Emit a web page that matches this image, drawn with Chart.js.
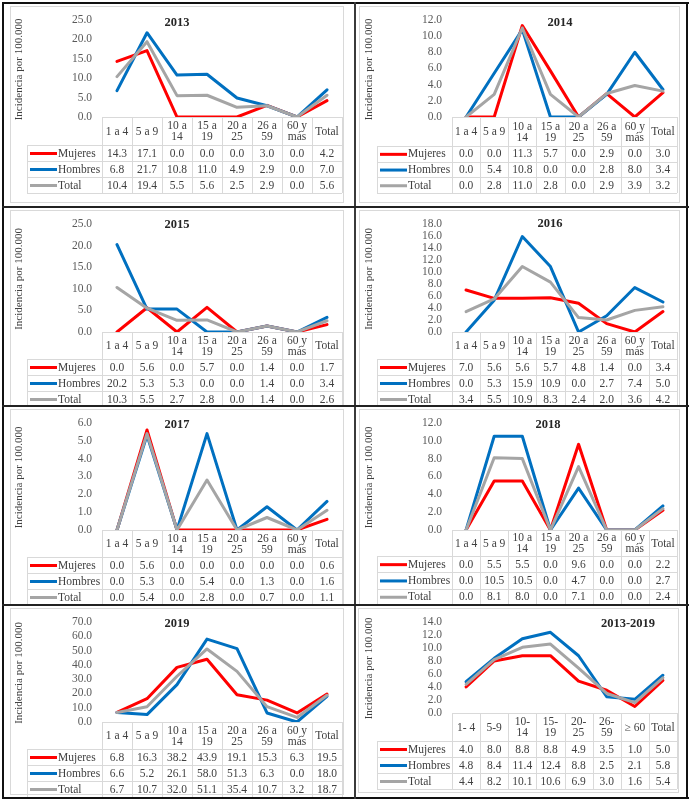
<!DOCTYPE html>
<html><head><meta charset="utf-8">
<script src="https://cdn.jsdelivr.net/npm/chart.js@4.4.0/dist/chart.umd.min.js"></script>
<style>
html,body{margin:0;padding:0;background:#fff;}
#wrap{position:relative;width:691px;height:802px;overflow:hidden;background:#fff;}
canvas{position:absolute;}
.ln{position:absolute;}
</style></head><body><div id="wrap"></div>
<script>
// ---------- DATA ----------
const categories = [["1 a 4"],["5 a 9"],["10 a","14"],["15 a","19"],["20 a","25"],["26 a","59"],["60 y","más"],["Total"]];
const categoriesAll = [["1- 4"],["5-9"],["10-","14"],["15-","19"],["20-","25"],["26-","59"],["≥ 60"],["Total"]];
const seriesNames = ["Mujeres","Hombres","Total"];
const yAxisTitle = "Incidencia por 100.000";

const mujeres2013 = [14.3,17.1,0.0,0.0,0.0,3.0,0.0,4.2];
const hombres2013 = [6.8,21.7,10.8,11.0,4.9,2.9,0.0,7.0];
const total2013   = [10.4,19.4,5.5,5.6,2.5,2.9,0.0,5.6];

const mujeres2014 = [0.0,0.0,11.3,5.7,0.0,2.9,0.0,3.0];
const hombres2014 = [0.0,5.4,10.8,0.0,0.0,2.8,8.0,3.4];
const total2014   = [0.0,2.8,11.0,2.8,0.0,2.9,3.9,3.2];

const mujeres2015 = [0.0,5.6,0.0,5.7,0.0,1.4,0.0,1.7];
const hombres2015 = [20.2,5.3,5.3,0.0,0.0,1.4,0.0,3.4];
const total2015   = [10.3,5.5,2.7,2.8,0.0,1.4,0.0,2.6];

const mujeres2016 = [7.0,5.6,5.6,5.7,4.8,1.4,0.0,3.4];
const hombres2016 = [0.0,5.3,15.9,10.9,0.0,2.7,7.4,5.0];
const total2016   = [3.4,5.5,10.9,8.3,2.4,2.0,3.6,4.2];

const mujeres2017 = [0.0,5.6,0.0,0.0,0.0,0.0,0.0,0.6];
const hombres2017 = [0.0,5.3,0.0,5.4,0.0,1.3,0.0,1.6];
const total2017   = [0.0,5.4,0.0,2.8,0.0,0.7,0.0,1.1];

const mujeres2018 = [0.0,5.5,5.5,0.0,9.6,0.0,0.0,2.2];
const hombres2018 = [0.0,10.5,10.5,0.0,4.7,0.0,0.0,2.7];
const total2018   = [0.0,8.1,8.0,0.0,7.1,0.0,0.0,2.4];

const mujeres2019 = [6.8,16.3,38.2,43.9,19.1,15.3,6.3,19.5];
const hombres2019 = [6.6,5.2,26.1,58.0,51.3,6.3,0.0,18.0];
const total2019   = [6.7,10.7,32.0,51.1,35.4,10.7,3.2,18.7];

const mujeresAll = [4.0,8.0,8.8,8.8,4.9,3.5,1.0,5.0];
const hombresAll = [4.8,8.4,11.4,12.4,8.8,2.5,2.1,5.8];
const totalAll   = [4.4,8.2,10.1,10.6,6.9,3.0,1.6,5.4];

const titles = ["2013","2014","2015","2016","2017","2018","2019","2013-2019"];
const yMaxes = [25,12,25,18,6,12,70,14];
const ySteps = [5,2,5,2,1,2,10,2];

// ---------- STYLE / LAYOUT ----------
const colors = ["#FF0000","#0070C0","#A5A5A5"];
const FONT = "'Liberation Serif', 'Times New Roman', serif";
const TXT = "#404040";

const panels = [
  {title:titles[0], cats:categories,    s:[mujeres2013,hombres2013,total2013], yMax:yMaxes[0], yStep:ySteps[0]},
  {title:titles[1], cats:categories,    s:[mujeres2014,hombres2014,total2014], yMax:yMaxes[1], yStep:ySteps[1]},
  {title:titles[2], cats:categories,    s:[mujeres2015,hombres2015,total2015], yMax:yMaxes[2], yStep:ySteps[2]},
  {title:titles[3], cats:categories,    s:[mujeres2016,hombres2016,total2016], yMax:yMaxes[3], yStep:ySteps[3]},
  {title:titles[4], cats:categories,    s:[mujeres2017,hombres2017,total2017], yMax:yMaxes[4], yStep:ySteps[4]},
  {title:titles[5], cats:categories,    s:[mujeres2018,hombres2018,total2018], yMax:yMaxes[5], yStep:ySteps[5]},
  {title:titles[6], cats:categories,    s:[mujeres2019,hombres2019,total2019], yMax:yMaxes[6], yStep:ySteps[6]},
  {title:titles[7], cats:categoriesAll, s:[mujeresAll,hombresAll,totalAll],    yMax:yMaxes[7], yStep:ySteps[7]}
];

const layouts = [
  {cell:[3,3,355,207],     plot:[102,12,342,117],  headerB:145, rowH:16, titleXY:[177,23],  frame:[10,6,343,202]},
  {cell:[355,3,687,207],   plot:[452,12,677,117],  headerB:146, rowH:15.7, titleXY:[560,23], frame:[359,6,679,202]},
  {cell:[3,207,355,406],   plot:[102,213,342,332], headerB:359, rowH:16, titleXY:[177,225], frame:[10,210,343,410]},
  {cell:[355,207,687,406], plot:[452,214,677,332], headerB:359, rowH:16, titleXY:[550,224], frame:[359,210,679,410]},
  {cell:[3,406,355,605],   plot:[102,415,342,530], headerB:557, rowH:16, titleXY:[177,425], frame:[10,409,343,610]},
  {cell:[355,406,687,605], plot:[452,415,677,530], headerB:556, rowH:16.3, titleXY:[548,425], frame:[359,409,679,610]},
  {cell:[3,605,355,798],   plot:[102,613,342,722], headerB:749, rowH:16, titleXY:[177,624], frame:[10,608,343,794]},
  {cell:[355,605,687,798], plot:[452,613,677,713], headerB:741, rowH:16, titleXY:[628,624], frame:[358,608,678,792]}
];

const wrap = document.getElementById('wrap');

function makePlugin(p, g){
  const [cx0, cy0] = g.cell;
  const leftCol = cx0 < 100;
  return {
    id: 'panelDecor',
    beforeDraw(chart){
      const ctx = chart.ctx;
      const f = g.frame;
      ctx.save();
      ctx.strokeStyle = '#d9d9d9'; ctx.lineWidth = 1;
      ctx.strokeRect(f[0]-cx0+0.5, f[1]-cy0+0.5, f[2]-f[0], f[3]-f[1]);
      ctx.restore();
    },
    afterDraw(chart){
      const ctx = chart.ctx;
      const ca = chart.chartArea;
      const xs = chart.scales.x;
      const n = p.cats.length;
      const cw = (ca.right - ca.left)/n;
      const L = ca.left, R = ca.right, top = ca.bottom;
      const hb = g.headerB - cy0;
      const rh = g.rowH;
      const lab = (leftCol ? 27 : 377) - cx0;
      const keyX = (leftCol ? 30 : 380) - cx0;
      const px = v => Math.round(v) + 0.5;
      ctx.save();
      // table grid
      ctx.strokeStyle = '#d9d9d9'; ctx.lineWidth = 1;
      ctx.beginPath();
      ctx.moveTo(L, px(top)); ctx.lineTo(R, px(top));
      for (let i=0;i<=n;i++){
        const x = px(L + i*cw);
        ctx.moveTo(x, top); ctx.lineTo(x, hb + 3*rh);
      }
      ctx.moveTo(px(lab), hb); ctx.lineTo(px(lab), hb + 3*rh);
      for (let r=0;r<=3;r++){
        const y = px(hb + r*rh);
        ctx.moveTo(lab, y); ctx.lineTo(R, y);
      }
      ctx.stroke();
      // header labels
      ctx.fillStyle = TXT;
      ctx.font = "11.5px " + FONT;
      ctx.textAlign = 'center'; ctx.textBaseline = 'middle';
      const hc = (top + hb)/2;
      p.cats.forEach((lines, i) => {
        const x = xs.getPixelForValue(i);
        const k = lines.length;
        lines.forEach((t, j) => {
          ctx.fillText(t, x, hc + (j - (k-1)/2)*11 + 0.5);
        });
      });
      // data rows
      p.s.forEach((arr, r) => {
        const yc = hb + r*rh + rh/2 + 0.5;
        arr.forEach((v, i) => {
          ctx.fillText(v.toFixed(1), xs.getPixelForValue(i), yc);
        });
        // legend key
        ctx.strokeStyle = colors[r]; ctx.lineWidth = 3; ctx.lineCap = 'butt';
        ctx.beginPath(); ctx.moveTo(keyX, yc); ctx.lineTo(keyX + 27, yc); ctx.stroke();
        ctx.textAlign = 'left';
        ctx.fillText(seriesNames[r], keyX + 28, yc);
        ctx.textAlign = 'center';
      });
      // title
      ctx.font = "bold 12.5px " + FONT;
      ctx.fillStyle = '#262626';
      ctx.fillText(p.title, g.titleXY[0]-cx0, g.titleXY[1]-cy0);
      // y-axis title
      ctx.font = "11px " + FONT;
      ctx.fillStyle = TXT;
      ctx.translate((leftCol ? 19 : 369) - cx0, (ca.top + ca.bottom)/2 + 1);
      ctx.rotate(-Math.PI/2);
      ctx.fillText(yAxisTitle, 0, 0);
      ctx.restore();
    }
  };
}

panels.forEach((p, idx) => {
  const g = layouts[idx];
  const [cx0, cy0, cx1, cy1] = g.cell;
  const W = cx1 - cx0, H = cy1 - cy0;
  const cv = document.createElement('canvas');
  cv.style.left = cx0 + 'px'; cv.style.top = cy0 + 'px';
  cv.style.width = W + 'px'; cv.style.height = H + 'px';
  cv.width = W; cv.height = H;
  wrap.appendChild(cv);
  const [pl, pt, pr, pb] = g.plot;
  const yAxisW = 40;
  new Chart(cv, {
    type: 'line',
    data: {
      labels: p.cats,
      datasets: p.s.map((arr, r) => ({
        label: seriesNames[r], data: arr, borderColor: colors[r], backgroundColor: colors[r],
        order: 2 - r, fill: false
      }))
    },
    options: {
      responsive: false, animation: false, events: [],
      layout: {padding: {left: pl - cx0 - yAxisW, right: cx1 - pr, top: pt - cy0, bottom: cy1 - pb}},
      elements: {
        line: {borderWidth: 3, tension: 0, borderJoinStyle: 'round', borderCapStyle: 'round'},
        point: {radius: 0, hoverRadius: 0}
      },
      scales: {
        x: {type: 'category', display: false, offset: true},
        y: {
          min: 0, max: p.yMax,
          afterFit: s => { s.width = yAxisW; },
          grid: {display: false, drawTicks: false},
          border: {display: false},
          ticks: {stepSize: p.yStep, autoSkip: false, padding: 10, color: '#595959',
                  font: {family: FONT, size: 11.5}, callback: v => v.toFixed(1)}
        }
      },
      plugins: {legend: {display: false}, tooltip: {enabled: false}, title: {display: false}}
    },
    plugins: [makePlugin(p, g)]
  });
});

// cell borders
function line(x, y, w, h, c){
  const d = document.createElement('div');
  d.className = 'ln';
  d.style.left = x+'px'; d.style.top = y+'px'; d.style.width = w+'px'; d.style.height = h+'px';
  d.style.background = c;
  wrap.appendChild(d);
}
line(2, 2, 687, 2, '#111');      // top
line(2, 797, 687, 2, '#111');    // bottom
line(2, 2, 2, 797, '#111');      // left
line(686, 2, 2, 797, '#111');    // right
line(354, 2, 2, 797, '#3a3a3a'); // middle vertical
line(2, 206, 687, 2, '#222');
line(2, 405, 687, 2, '#222');
line(2, 604, 687, 2, '#222');
</script></body></html>
